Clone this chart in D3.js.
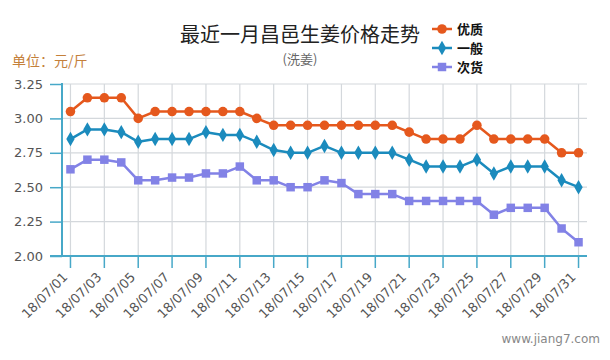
<!DOCTYPE html>
<html><head><meta charset="utf-8">
<script src="https://cdn.jsdelivr.net/npm/d3@7/dist/d3.min.js"></script>
<style>
html,body{margin:0;padding:0;background:#fff;}
svg{display:block;}
text{font-family:"DejaVu Sans",Verdana,sans-serif;}
.cjk{font-family:"Noto Sans CJK SC","Noto Sans",sans-serif;}
</style></head>
<body>
<svg id="chart" width="610" height="360"></svg>
<script>
const dates = ["18/07/01","18/07/02","18/07/03","18/07/04","18/07/05","18/07/06","18/07/07","18/07/08","18/07/09","18/07/10",
"18/07/11","18/07/12","18/07/13","18/07/14","18/07/15","18/07/16","18/07/17","18/07/18","18/07/19","18/07/20",
"18/07/21","18/07/22","18/07/23","18/07/24","18/07/25","18/07/26","18/07/27","18/07/28","18/07/29","18/07/30","18/07/31"];
const youzhi = [3.05,3.15,3.15,3.15,3.00,3.05,3.05,3.05,3.05,3.05,3.05,3.00,2.95,2.95,2.95,2.95,2.95,2.95,2.95,2.95,2.90,2.85,2.85,2.85,2.95,2.85,2.85,2.85,2.85,2.75,2.75];
const yiban  = [2.85,2.92,2.92,2.90,2.83,2.85,2.85,2.85,2.90,2.88,2.88,2.83,2.77,2.75,2.75,2.80,2.75,2.75,2.75,2.75,2.70,2.65,2.65,2.65,2.70,2.60,2.65,2.65,2.65,2.55,2.50];
const cihuo  = [2.63,2.70,2.70,2.68,2.55,2.55,2.57,2.57,2.60,2.60,2.65,2.55,2.55,2.50,2.50,2.55,2.53,2.45,2.45,2.45,2.40,2.40,2.40,2.40,2.40,2.30,2.35,2.35,2.35,2.20,2.10];
const seriesNames = ["优质","一般","次货"];
const yTicks = [2.00,2.25,2.50,2.75,3.00,3.25];
const xTickLabels = ["18/07/01","18/07/03","18/07/05","18/07/07","18/07/09","18/07/11","18/07/13","18/07/15","18/07/17","18/07/19","18/07/21","18/07/23","18/07/25","18/07/27","18/07/29","18/07/31"];

const colors = ["#e5581d","#1b8bbd","#8282e6"];
const shapes = [d3.symbolCircle, d3.symbolDiamond, d3.symbolSquare];
const sizes = [72, 60, 72];
const axisColor = "#47a8c8";
const gridColor = "#d4d8dc";

const svg = d3.select("#chart");
const L = 62, R = 587, T = 84, B = 256;
const x = d3.scaleBand().domain(dates).range([L, R]).padding(0);
const cx = d => x(d) + x.bandwidth()/2;
const y = d3.scaleLinear().domain([2.0, 3.25]).range([B, T]);

// grid
const g = svg.append("g");
g.selectAll("line.h").data(yTicks.slice(1)).enter().append("line")
  .attr("x1", L).attr("x2", R).attr("y1", d=>y(d)).attr("y2", d=>y(d))
  .attr("stroke", gridColor).attr("stroke-width", 1.2);
g.selectAll("line.v").data(xTickLabels).enter().append("line")
  .attr("x1", d=>cx(d)).attr("x2", d=>cx(d)).attr("y1", T).attr("y2", B)
  .attr("stroke", gridColor).attr("stroke-width", 1.2);

// y axis
const yAxis = d3.axisLeft(y).tickValues(yTicks).tickFormat(d3.format(".2f")).tickSize(12).tickPadding(7);
const ya = svg.append("g").attr("transform", `translate(${L},0)`).call(yAxis);
ya.select(".domain").remove();
ya.selectAll(".tick line").attr("stroke", axisColor).attr("stroke-width", 1.5);
ya.selectAll(".tick text").attr("fill", "#555").style("font-size", "13px").style("font-family", '"DejaVu Sans",Verdana,sans-serif');
svg.append("line").attr("x1", L).attr("x2", L).attr("y1", T-1).attr("y2", B)
  .attr("stroke", axisColor).attr("stroke-width", 2);

// x axis
const xAxis = d3.axisBottom(x).tickValues(xTickLabels).tickSize(12).tickFormat(d=>d);
const xa = svg.append("g").attr("transform", `translate(0,${B})`).call(xAxis);
xa.select(".domain").remove();
xa.selectAll(".tick line").attr("stroke", axisColor).attr("stroke-width", 1.5);
xa.selectAll(".tick text").attr("fill", "#555").style("font-size", "13px")
  .style("font-family", '"DejaVu Sans",Verdana,sans-serif')
  .attr("text-anchor", "end").attr("dy", null).attr("y", 0)
  .attr("transform", "translate(-2,22) rotate(-45)");
svg.append("line").attr("x1", L-12).attr("x2", R).attr("y1", B).attr("y2", B)
  .attr("stroke", axisColor).attr("stroke-width", 2);

// series
const allSeries = [youzhi, yiban, cihuo];
const line = d3.line().x((d,i)=>cx(dates[i])).y(d=>y(d));
allSeries.forEach((vals, k) => {
  svg.append("path").datum(vals).attr("d", line).attr("fill", "none")
    .attr("stroke", colors[k]).attr("stroke-width", 2.5).attr("stroke-linejoin", "round");
  svg.append("g").selectAll("path").data(vals).enter().append("path")
    .attr("d", d3.symbol().type(shapes[k]).size(sizes[k]))
    .attr("transform", (d,i)=>`translate(${cx(dates[i])},${y(d)})`)
    .attr("fill", colors[k]);
});

// title
svg.append("text").attr("class","cjk").attr("x", 300).attr("y", 42).attr("text-anchor","middle")
  .style("font-size","20px").attr("fill","#222").text("最近一月昌邑生姜价格走势");
svg.append("text").attr("class","cjk").attr("x", 300).attr("y", 64).attr("text-anchor","middle")
  .style("font-size","13px").attr("fill","#666").text("(洗姜)");
svg.append("text").attr("class","cjk").attr("x", 12).attr("y", 66)
  .style("font-size","14px").attr("fill","#c4803a").text("单位：元/斤");
svg.append("text").attr("x", 600).attr("y", 343).attr("text-anchor","end")
  .style("font-size","12px").attr("fill","#888").text("www.jiang7.com");

// legend
const lg = svg.append("g");
seriesNames.forEach((name, k) => {
  const yy = 29 + k*19;
  lg.append("line").attr("x1", 432).attr("x2", 452).attr("y1", yy).attr("y2", yy)
    .attr("stroke", colors[k]).attr("stroke-width", 2.5);
  lg.append("path").attr("d", d3.symbol().type(shapes[k]).size(sizes[k]))
    .attr("transform", `translate(442,${yy})`).attr("fill", colors[k]);
  lg.append("text").attr("class","cjk").attr("x", 457).attr("y", yy+5)
    .style("font-size","13px").style("font-weight","bold").attr("fill","#111").text(name);
});
</script>
</body></html>
